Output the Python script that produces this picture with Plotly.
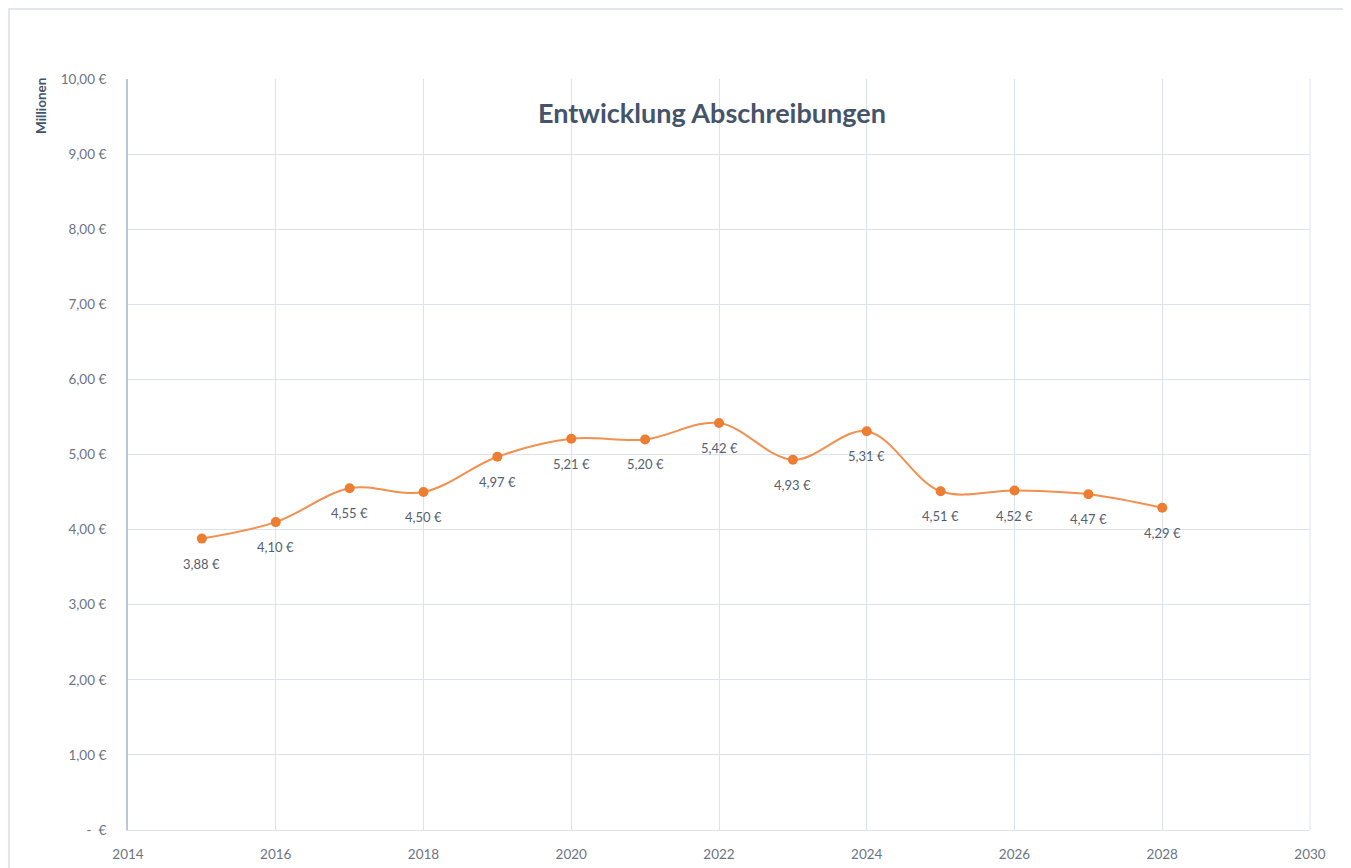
import plotly.graph_objects as go

years = [2015, 2016, 2017, 2018, 2019, 2020, 2021, 2022, 2023, 2024, 2025, 2026, 2027, 2028]
values = [3.88, 4.10, 4.55, 4.50, 4.97, 5.21, 5.20, 5.42, 4.93, 5.31, 4.51, 4.52, 4.47, 4.29]
y_tickvals = [0, 1, 2, 3, 4, 5, 6, 7, 8, 9, 10]
y_ticktext = ["-  €", "1,00 €", "2,00 €", "3,00 €", "4,00 €", "5,00 €", "6,00 €", "7,00 €", "8,00 €", "9,00 €", "10,00 €"]
x_tickvals = [2014, 2016, 2018, 2020, 2022, 2024, 2026, 2028, 2030]

labels = [f"{v:.2f}".replace(".", ",") + " €" for v in values]

FONT = "Lato, 'Open Sans', sans-serif"
ORANGE = "#ED7D31"
GRID = "#DDE3EC"
TICK = "#6E7582"
LBL = "#56606F"

fig = go.Figure()
fig.add_trace(go.Scatter(
    x=years, y=values, mode="lines+markers",
    line=dict(color="#F29050", width=2, shape="spline", smoothing=1.0),
    marker=dict(color=ORANGE, size=10),
    cliponaxis=False, showlegend=False, hoverinfo="x+y",
))

annotations = [
    dict(x=x, y=y, xref="x", yref="y", text=t, showarrow=False, yshift=-25,
         xanchor="center", yanchor="middle", font=dict(family=FONT, size=13, color=LBL))
    for x, y, t in zip(years, values, labels)
]
annotations += [
    dict(text="<b>Entwicklung Abschreibungen</b>", xref="paper", yref="paper", x=0.494, y=0.955,
         xanchor="center", yanchor="middle", showarrow=False,
         font=dict(family=FONT, size=27, color="#44546A")),
    dict(text="<b>Millionen</b>", xref="paper", yref="paper", x=-0.0736, y=1.004, textangle=-90,
         xanchor="center", yanchor="top", showarrow=False,
         font=dict(family=FONT, size=13.5, color="#44546A")),
]

fig.update_layout(
    width=1343, height=860,
    margin=dict(l=120, r=41, t=71, b=38, autoexpand=False),
    paper_bgcolor="white", plot_bgcolor="white",
    font=dict(family=FONT, color=TICK, size=13),
    xaxis=dict(range=[2014, 2030], tickvals=x_tickvals, showgrid=True, gridcolor=GRID, gridwidth=1,
               zeroline=False, showline=True, linecolor=GRID, linewidth=1, mirror=False, automargin=False,
               tickfont=dict(size=13.5, color=TICK), ticks="", ticklen=0, ticklabelstandoff=12),
    yaxis=dict(range=[0, 10], tickvals=y_tickvals, ticktext=y_ticktext, showgrid=True, gridcolor=GRID,
               gridwidth=1, zeroline=False, showline=True, linecolor="#BCC8DA", linewidth=2, automargin=False,
               tickfont=dict(size=13.5, color=TICK), ticks="", ticklen=0, ticklabelstandoff=17),
    shapes=[
        dict(type="rect", xref="paper", yref="paper", x0=-0.1007, x1=1.032, y0=-0.08, y1=1.0932,
             line=dict(color="#E3E6F0", width=2), fillcolor="rgba(0,0,0,0)", layer="below"),
        dict(type="line", xref="paper", yref="paper", x0=1, x1=1, y0=0, y1=1,
             line=dict(color=GRID, width=1)),
    ],
    annotations=annotations,
)

fig.write_html("out.html")
